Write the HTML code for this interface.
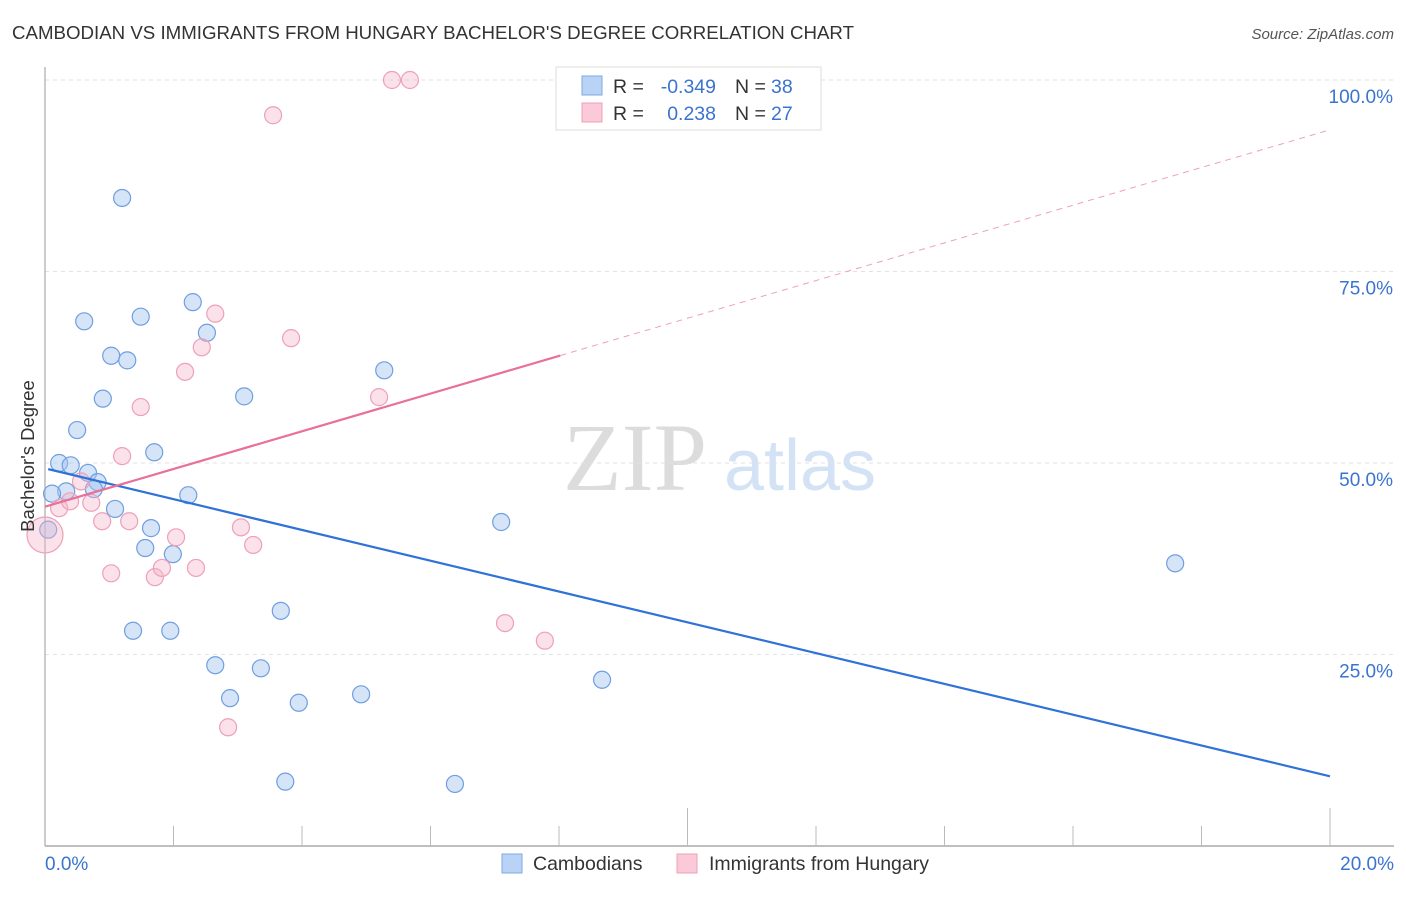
<!DOCTYPE html>
<html><head><meta charset="utf-8"><style>
body{margin:0;background:#fff;font-family:"Liberation Sans",sans-serif}
svg text{font-family:"Liberation Sans",sans-serif}
</style></head><body>
<svg width="1406" height="892" xmlns="http://www.w3.org/2000/svg" id="c">
<text x="12" y="39" font-size="18" fill="#333" textLength="842" lengthAdjust="spacingAndGlyphs">CAMBODIAN VS IMMIGRANTS FROM HUNGARY BACHELOR'S DEGREE CORRELATION CHART</text>
<text x="1394" y="39" font-size="15" fill="#555" text-anchor="end" font-style="italic">Source: ZipAtlas.com</text>
<g>
<text x="635" y="490" font-size="96" fill="#dcdcdc" text-anchor="middle" style="font-family:'Liberation Serif',serif">ZIP</text>
<text x="800" y="490" font-size="72" fill="#d3e2f5" text-anchor="middle">atlas</text>
</g>
<g id="grid"></g>
<g id="axes"></g>
<g id="pts"></g>
<g id="lines"></g>
<text transform="translate(34,456) rotate(-90)" font-size="18.5" fill="#333" text-anchor="middle">Bachelor's Degree</text>
<g>
<rect x="556" y="67" width="265" height="63" fill="#fff" stroke="#ddd"/>
<rect x="582" y="76" width="20" height="19" fill="#b8d3f5" stroke="#7fa8e0"/>
<rect x="582" y="103" width="20" height="19" fill="#fbc9d8" stroke="#eea0b8"/>
<text x="613" y="93" font-size="19.5" fill="#333">R =</text>
<text x="716" y="93" font-size="19.5" fill="#3a74d0" text-anchor="end">-0.349</text>
<text x="735" y="93" font-size="19.5" fill="#333">N =</text>
<text x="771" y="93" font-size="19.5" fill="#3a74d0">38</text>
<text x="613" y="120" font-size="19.5" fill="#333">R =</text>
<text x="716" y="120" font-size="19.5" fill="#3a74d0" text-anchor="end">0.238</text>
<text x="735" y="120" font-size="19.5" fill="#333">N =</text>
<text x="771" y="120" font-size="19.5" fill="#3a74d0">27</text>
</g>
<g>
<rect x="502" y="854" width="20" height="19" fill="#b8d3f5" stroke="#7fa8e0"/>
<text x="533" y="870" font-size="19.5" fill="#333">Cambodians</text>
<rect x="677" y="854" width="20" height="19" fill="#fbc9d8" stroke="#eea0b8"/>
<text x="709" y="870" font-size="19.5" fill="#333">Immigrants from Hungary</text>
</g>
</svg>
<script>
const blueX=[1.20,0.61,1.49,2.30,2.52,1.03,1.28,0.90,3.10,5.28,0.50,1.70,0.22,0.40,0.67,0.82,0.33,0.11,0.76,1.09,2.23,0.05,1.65,1.56,1.99,7.10,17.59,3.67,1.37,1.95,2.65,3.36,2.88,3.95,4.92,8.67,3.74,6.38];
const blueY=[84.6,68.5,69.1,71.0,67.0,64.0,63.4,58.4,58.7,62.1,54.3,51.4,50.0,49.7,48.7,47.5,46.3,46.0,46.6,44.0,45.8,41.3,41.5,38.9,38.1,42.3,36.9,30.7,28.1,28.1,23.6,23.2,19.3,18.7,19.8,21.7,8.4,8.1];
const pinkX=[5.40,5.68,3.55,2.65,3.83,2.44,2.18,1.49,5.20,1.20,0.56,0.22,0.39,0.72,0.89,1.31,2.04,3.05,3.24,1.03,1.71,1.82,2.35,7.16,7.78,2.85,0.0];
const pinkY=[100,100,95.4,69.5,66.3,65.1,61.9,57.3,58.6,50.9,47.6,44.1,45.0,44.8,42.4,42.4,40.3,41.6,39.3,35.6,35.1,36.3,36.3,29.1,26.8,15.5,40.6];
const blueTrend=[49.2,9.1];
const pinkTrend=[44.3,93.5];
const yTicks=[25,50,75,100];
const xTickLabels=["0.0%","20.0%"];
const NS="http://www.w3.org/2000/svg";
const X=v=>45+v*64.25, Y=v=>846-v*7.66;
function mk(tag,attrs,parent){const e=document.createElementNS(NS,tag);for(const k in attrs)e.setAttribute(k,attrs[k]);document.getElementById(parent).appendChild(e);return e;}
yTicks.forEach(t=>{
 const l=mk('line',{x1:45,x2:1394,y1:Y(t),y2:Y(t),stroke:'#e2e2e2','stroke-dasharray':'4,4'},'grid');
 
 
 const tx=mk('text',{x:1393,y:Y(t)+23,'font-size':19,fill:'#3a74d0','text-anchor':'end'},'grid');
 tx.textContent=t.toFixed(1)+'%';
 
 
});
const ax=mk('line',{x1:45,x2:1394,y1:846,y2:846,stroke:'#aaa','stroke-width':1.5},'axes');


const ay=mk('line',{x1:45,x2:45,y1:67,y2:846,stroke:'#aaa','stroke-width':1.2},'axes');


for(let k=1;k<=10;k++){
 const xv=k*2;const tall=(k===5||k===10);
 const t=mk('line',{x1:X(xv),x2:X(xv),y1:tall?808:826,y2:846,stroke:'#bbb'},'axes');
 
 
}
[[0,'start',45],[20,'end',1394]].forEach((a,i)=>{
 const t=mk('text',{x:a[2],y:870,'font-size':19,fill:'#3a74d0','text-anchor':a[1]},'axes');
 t.textContent=xTickLabels[i];
 
 
});
blueX.forEach((v,i)=>{
 const c=mk('circle',{cx:X(v),cy:Y(blueY[i]),r:8.5,fill:'rgba(164,196,240,0.45)',stroke:'#6f9fe0','stroke-width':1.2},'pts');
 
 
});
pinkX.forEach((v,i)=>{
 const big=i===pinkX.length-1;
 const c=mk('circle',{cx:X(v),cy:Y(pinkY[i]),r:big?18:8.5,fill:'rgba(245,180,200,0.4)',stroke:'#eea0b8','stroke-width':1.2},'pts');
 
 
});
const bl=mk('line',{x1:X(0.05),y1:Y(blueTrend[0]),x2:X(20),y2:Y(blueTrend[1]),stroke:'#2f72d8','stroke-width':2.2},'lines');


const pAt=x=>pinkTrend[0]+(pinkTrend[1]-pinkTrend[0])*x/20;
const pl=mk('line',{x1:X(0),y1:Y(pAt(0)),x2:X(8.02),y2:Y(pAt(8.02)),stroke:'#e8709a','stroke-width':2.2},'lines');


const pd=mk('line',{x1:X(8.02),y1:Y(pAt(8.02)),x2:X(20),y2:Y(pAt(20)),stroke:'#eea0b8','stroke-width':1,'stroke-dasharray':'6,5'},'lines');


</script>
</body></html>
